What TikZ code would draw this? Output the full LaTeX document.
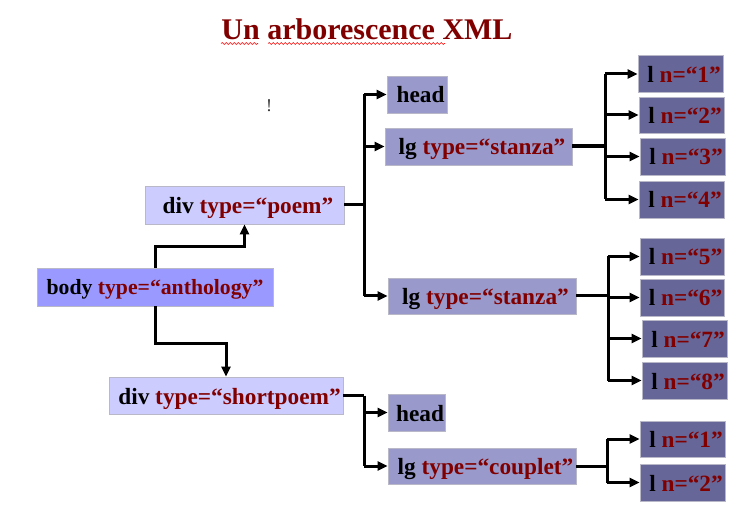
\documentclass[tikz,border=0pt]{standalone}
\usepackage{fontspec}
\setmainfont{Liberation Serif}
\usetikzlibrary{arrows.meta,decorations.pathmorphing}
\definecolor{dkred}{HTML}{800000}
\definecolor{bodyfill}{HTML}{9999FF}
\definecolor{divfill}{HTML}{CCCCFF}
\definecolor{lgfill}{HTML}{9999CC}
\definecolor{lfill}{HTML}{666699}
\definecolor{edge}{HTML}{B8B8C8}
\newcommand{\rd}[1]{\textcolor{dkred}{#1}}
\tikzset{
  box/.style={draw=edge, line width=0.8pt, inner sep=0pt, text height=17pt, text depth=0pt,
    font=\bfseries\fontsize{23.3}{24}\selectfont, text=black, execute at begin node=\hspace*{7pt}},
  bodybox/.style={draw=edge, line width=0.8pt, inner sep=0pt, text height=16pt, text depth=0pt,
    font=\bfseries\fontsize{21.7}{22}\selectfont, text=black},
  arr/.style={line width=3pt, -{Triangle[length=10pt,width=9pt]}},
  ln/.style={line width=3pt},
}
\begin{document}
\begin{tikzpicture}[x=1pt,y=-1pt]
\useasboundingbox (0,0) rectangle (755,529);
% title
\node[anchor=base, text=dkred, font=\bfseries\fontsize{30}{30}\selectfont, inner sep=0pt] (title) at (367,39.5) {Un arborescence XML};
\draw[red, line width=0.6pt, decorate, decoration={snake, amplitude=0.9pt, segment length=4pt}] (221,43.5) -- (258,43.5);
\draw[red, line width=0.6pt, decorate, decoration={snake, amplitude=0.9pt, segment length=4pt}] (268,43.5) -- (445,43.5);
\node[font=\fontsize{18}{18}\selectfont, text=black!80, inner sep=0pt] (bang) at (269,106) {!};
% nodes
\node[bodybox, fill=bodyfill, minimum width=236, minimum height=38] (body) at (155,287) {body \rd{type=“anthology”}};
\node[box, fill=divfill, minimum width=199, minimum height=38] (poem) at (244.5,205) {div \rd{type=“poem”}};
\node[box, fill=divfill, minimum width=234, minimum height=37] (short) at (226,395.5) {div \rd{type=“shortpoem”}};
\node[box, fill=lgfill, minimum width=60, minimum height=37] (head1) at (417,94.5) {head};
\node[box, fill=lgfill, minimum width=187, minimum height=37] (lg1) at (478.5,146.5) {lg \rd{type=“stanza”}};
\node[box, fill=lgfill, minimum width=188, minimum height=36] (lg2) at (482,296) {lg \rd{type=“stanza”}};
\node[box, fill=lgfill, minimum width=57, minimum height=37] (head2) at (416.5,412.5) {head};
\node[box, fill=lgfill, minimum width=188, minimum height=36] (lg3) at (482,466) {lg \rd{type=“couplet”}};
\node[box, fill=lfill, minimum width=85, minimum height=37] (l1) at (680.5,74) {l \rd{n=“1”}};
\node[box, fill=lfill, minimum width=85, minimum height=36] (l2) at (681.5,115) {l \rd{n=“2”}};
\node[box, fill=lfill, minimum width=85, minimum height=37] (l3) at (682.5,156.5) {l \rd{n=“3”}};
\node[box, fill=lfill, minimum width=85, minimum height=37] (l4) at (681.5,199.5) {l \rd{n=“4”}};
\node[box, fill=lfill, minimum width=84, minimum height=37] (l5) at (682,256.5) {l \rd{n=“5”}};
\node[box, fill=lfill, minimum width=84, minimum height=37] (l6) at (682,297.5) {l \rd{n=“6”}};
\node[box, fill=lfill, minimum width=85, minimum height=37] (l7) at (684.5,338.5) {l \rd{n=“7”}};
\node[box, fill=lfill, minimum width=85, minimum height=37] (l8) at (684.5,380.5) {l \rd{n=“8”}};
\node[box, fill=lfill, minimum width=85, minimum height=36] (c1) at (682.5,439) {l \rd{n=“1”}};
\node[box, fill=lfill, minimum width=85, minimum height=37] (c2) at (682.5,482.5) {l \rd{n=“2”}};
% body connectors
\draw[arr] (body.north) -- ++(0,-21) -| (poem.south);
\draw[arr] (body.south) -- ++(0,37) -| (short.north);
% poem
\draw[ln] (poem.east) -- ++(20,0) coordinate (pj);
\draw[ln] (pj |- head1.west) -- (pj |- lg2.west);
\draw[arr] (pj |- head1.west) -- (head1.west);
\draw[arr] (pj |- lg1.west) -- (lg1.west);
\draw[arr] (pj |- lg2.west) -- (lg2.west);
% shortpoem
\draw[ln] (short.east) -- ++(21,0) coordinate (sj);
\draw[ln] (sj) -- (sj |- lg3.west);
\draw[arr] (sj |- head2.west) -- (head2.west);
\draw[arr] (sj |- lg3.west) -- (lg3.west);
% lg1
\draw[line width=4pt] (lg1.east) -- ++(33,0) coordinate (aj);
\draw[ln] (aj |- l1.west) -- (aj |- l4.west);
\draw[arr] (aj |- l1.west) -- (l1.west);
\draw[arr] (aj |- l2.west) -- (l2.west);
\draw[arr] (aj |- l3.west) -- (l3.west);
\draw[arr] (aj |- l4.west) -- (l4.west);
% lg2
\draw[ln] (lg2.east) -- ++(32,0) coordinate (bj);
\draw[ln] (bj |- l5.west) -- (bj |- l8.west);
\draw[arr] (bj |- l5.west) -- (l5.west);
\draw[arr] (bj |- l6.west) -- (l6.west);
\draw[arr] (bj |- l7.west) -- (l7.west);
\draw[arr] (bj |- l8.west) -- (l8.west);
% lg3
\draw[ln] (lg3.east) -- ++(31,0) coordinate (cj);
\draw[ln] (cj |- c1.west) -- (cj |- c2.west);
\draw[arr] (cj |- c1.west) -- (c1.west);
\draw[arr] (cj |- c2.west) -- (c2.west);
\end{tikzpicture}
\end{document}
